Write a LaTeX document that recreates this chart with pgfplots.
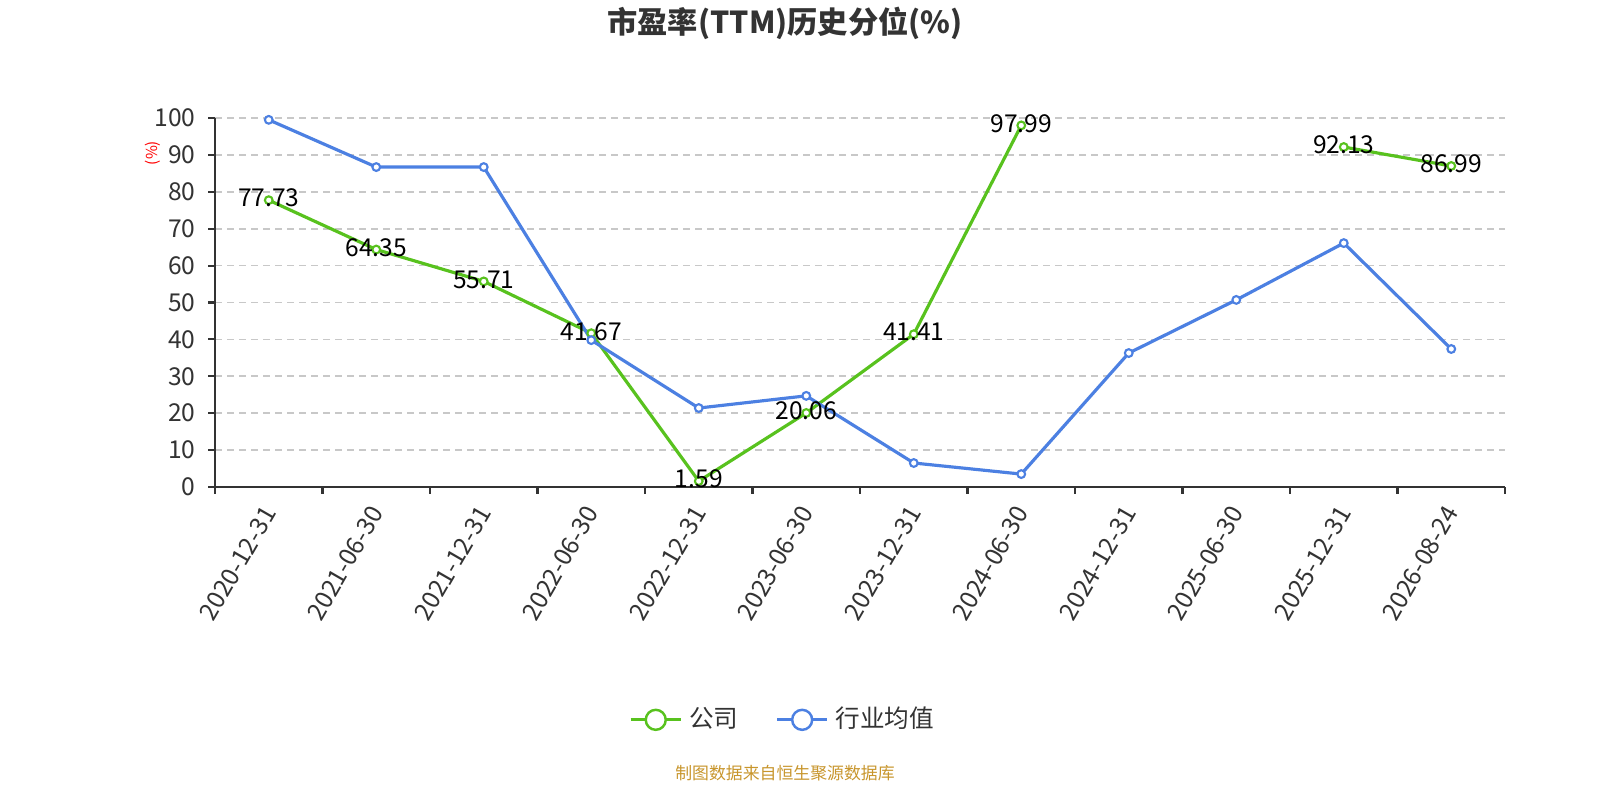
\documentclass[border=0pt]{standalone}
\usepackage{pgfplots}
\pgfplotsset{compat=1.18}
\usepackage{fontspec}
\setmainfont{Noto Sans CJK SC}
\definecolor{cgreen}{RGB}{88,194,30}
\definecolor{cblue}{RGB}{76,128,226}
\definecolor{ctext}{RGB}{51,51,51}
\definecolor{cgrid}{RGB}{200,200,200}
\definecolor{csrc}{RGB}{200,150,45}
\begin{document}
\begin{tikzpicture}
\path[use as bounding box, fill=white] (0,0) rectangle (16,8);
\begin{pgfinterruptboundingbox}
\node[font=\fontsize{8.6}{10}\selectfont\bfseries, text=ctext] at (7.85,7.77) {市盈率(TTM)历史分位(\%)};
\node[font=\fontsize{4.8}{6}\selectfont, text=csrc] at (7.85,0.27) {制图数据来自恒生聚源数据库};
\node[font=\fontsize{4.3}{5}\selectfont, text=red, rotate=90] at (1.53,6.47) {(\%)};
\begin{axis}[
  at={(2.15cm,3.13cm)}, anchor=south west,
  scale only axis, width=12.9cm, height=3.69cm,
  xmin=-0.5, xmax=11.5, ymin=0, ymax=100,
  unbounded coords=jump,
  axis x line*=bottom, axis y line*=left,
  axis line style={ctext, line width=0.6pt},
  every outer x axis line/.append style={-}, every outer y axis line/.append style={-},
  xtick={0,...,11},
  xticklabels={2020-12-31,2021-06-30,2021-12-31,2022-06-30,2022-12-31,2023-06-30,2023-12-31,2024-06-30,2024-12-31,2025-06-30,2025-12-31,2026-08-24},
  major x tick style={draw=none},
  minor xtick={-0.5,0.5,...,11.5},
  minor x tick style={ctext, line width=0.6pt},
  minor tick length=0.07cm,
  xticklabel style={rotate=60, anchor=east, font=\fontsize{7}{8}\selectfont, text=ctext, yshift=-0.08cm},
  ytick={0,10,...,100},
  y tick style={ctext, line width=0.6pt},
  major tick length=0.07cm,
  tick align=outside,
  yticklabel style={font=\fontsize{7}{8}\selectfont, text=ctext},
  /pgf/number format/assume math mode=true,
  ymajorgrids, grid style={cgrid, dashed, dash pattern=on 0.07cm off 0.05cm, line width=0.5pt},
  legend columns=2,
  legend style={draw=none, fill=none, at={(0.442,-0.631)}, anchor=center,
    font=\fontsize{7}{8}\selectfont, text=ctext,
    /tikz/every even column/.append style={column sep=0.3cm}},
  legend image code/.code={
    \draw[#1, mark=none] (0cm,0cm) -- (0.5cm,0cm);
    \draw[#1, fill=white, line width=0.7pt] (0.25cm,0cm) circle (0.1cm);
  },
]
\addplot[cgreen, line width=0.9pt, mark=*, mark size=1.1pt, mark options={fill=white, line width=0.6pt},
  nodes near coords={\pgfmathprintnumber[fixed,precision=2,zerofill]{\pgfplotspointmeta}},
  every node near coord/.append style={anchor=center, yshift=0.02cm, text=black, font=\fontsize{7}{8}\selectfont}]
coordinates {(0,77.73) (1,64.35) (2,55.71) (3,41.67) (4,1.59) (5,20.06) (6,41.41) (7,97.99) (8,nan) (9,nan) (10,92.13) (11,86.99)};
\addlegendentry{公司}
\addplot[cblue, line width=0.9pt, mark=*, mark size=1.1pt, mark options={fill=white, line width=0.6pt}]
coordinates {(0,99.5) (1,86.7) (2,86.7) (3,39.8) (4,21.4) (5,24.7) (6,6.5) (7,3.5) (8,36.3) (9,50.7) (10,66.1) (11,37.4)};
\addlegendentry{行业均值}
\end{axis}
\end{pgfinterruptboundingbox}
\end{tikzpicture}
\end{document}
